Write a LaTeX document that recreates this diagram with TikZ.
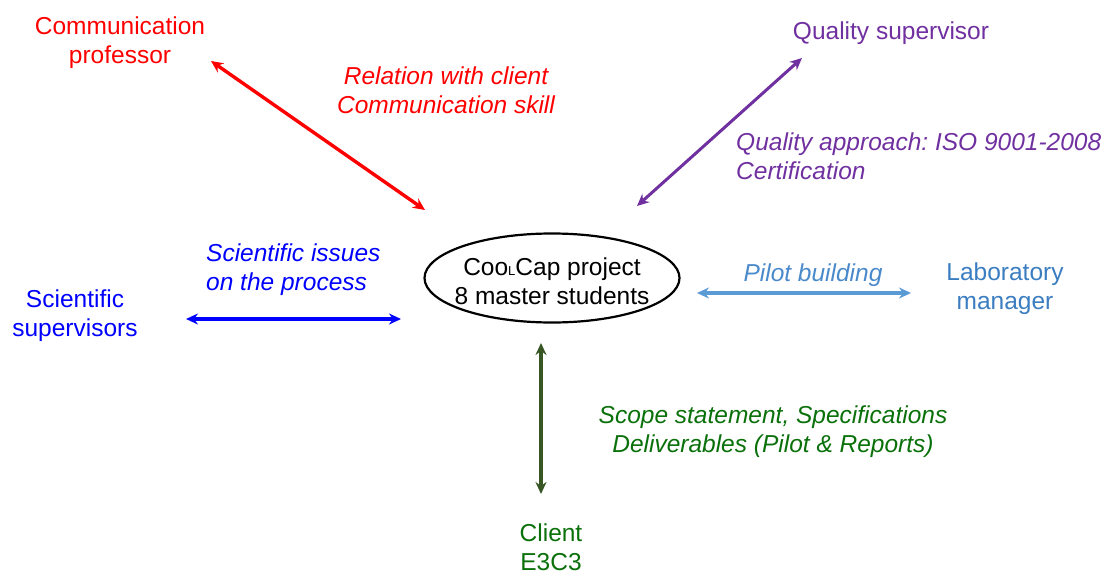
\documentclass[tikz,border=0pt]{standalone}
\usepackage{fontspec}
\setmainfont{Liberation Sans}
\usetikzlibrary{arrows.meta,shapes.geometric}
\frenchspacing
\definecolor{cred}{HTML}{FF0000}
\definecolor{cpurple}{HTML}{7030A0}
\definecolor{cblue}{HTML}{0000FF}
\definecolor{clblue}{HTML}{5B9BD5}
\definecolor{clbltxt}{HTML}{4A8ACB}
\definecolor{clab}{HTML}{3A7DC0}
\definecolor{cgreen}{HTML}{0A700A}
\definecolor{cdgreen}{HTML}{375623}
\tikzset{
  txt/.style={inner sep=0pt, align=center, font=\fontsize{24.5}{29}\selectfont},
  lbl/.style={txt, font=\fontsize{24.5}{29}\selectfont\itshape},
  dbl/.style={{Stealth[length=12pt,width=11pt]}-{Stealth[length=12pt,width=11pt]}}
}
\begin{document}
\begin{tikzpicture}[x=1pt,y=-1pt]
\useasboundingbox (0,0) rectangle (1105,575);
% center
\node[draw, line width=2.2pt, ellipse, minimum width=255pt, minimum height=89pt, inner sep=0pt] (proj) at (552,278) {};
\node[txt] (projtxt) at (552,281) {Coo{\fontsize{13}{13}\selectfont L}Cap project\\8 master students};
% roles
\node[txt, text=cred] (comm) at (120,43) {Communication\\professor};
\node[txt, text=cpurple] (qual) at (891,33) {Quality supervisor};
\node[txt, text=cblue] (sci) at (75,316) {Scientific\\supervisors};
\node[txt, text=clab] (lab) at (1005,289) {Laboratory\\manager};
\node[txt, text=cgreen] (client) at (551,547) {Client\\E3C3};
% labels
\node[lbl, text=cred] (l1) at (446,90) {Relation with client\\Communication skill};
\node[lbl, text=cpurple, align=left, anchor=west] (l2) at (736,156) {Quality approach: ISO 9001-2008\\Certification};
\node[lbl, text=cblue, align=left, anchor=west] (l3) at (206,270) {Scientific issues\\on the process};
\node[lbl, text=clbltxt] (l4) at (813,275) {Pilot building};
\node[lbl, text=cgreen] (l5) at (773,432) {Scope statement, Specifications\\Deliverables (Pilot \& Reports)};
% arrow end points
\coordinate (r1) at (211,61); \coordinate (r2) at (425,210);
\coordinate (p1) at (802,58); \coordinate (p2) at (637,206);
\coordinate (b1) at (186,319); \coordinate (b2) at (401,319);
\coordinate (lb1) at (697,293); \coordinate (lb2) at (911,293);
\coordinate (g1) at (541,343); \coordinate (g2) at (541,494);
\draw[dbl, cred, line width=3.4pt] (r1) -- (r2);
\draw[dbl, cpurple, line width=3pt] (p1) -- (p2);
\draw[dbl, cblue, line width=3.4pt] (b1) -- (b2);
\draw[dbl, clblue, line width=3.4pt] (lb1) -- (lb2);
\draw[dbl, cdgreen, line width=3.6pt] (g1) -- (g2);
\end{tikzpicture}
\end{document}
